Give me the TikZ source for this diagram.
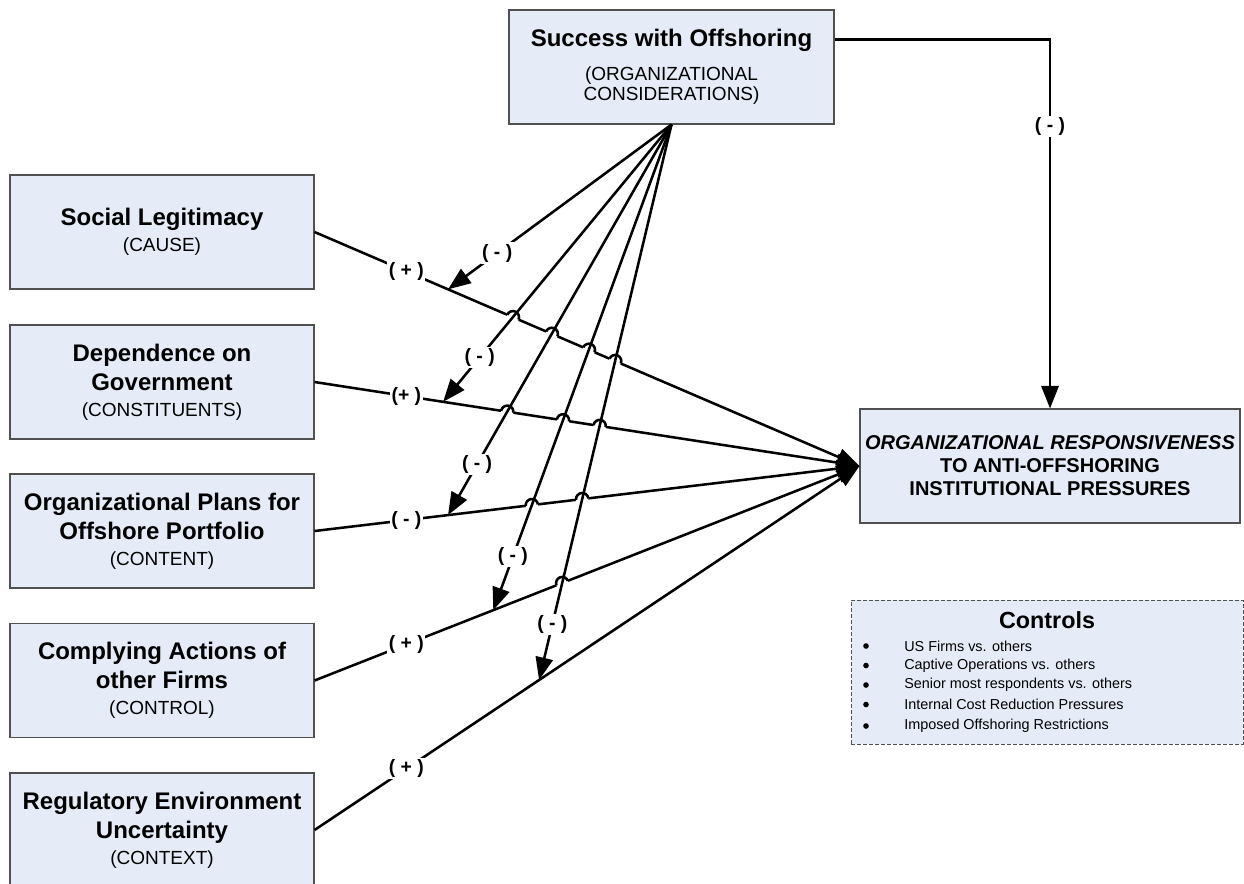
\documentclass[tikz,border=0pt]{standalone}
\usepackage{fontspec}
\setmainfont{Liberation Sans}
\usetikzlibrary{arrows.meta,calc}
\definecolor{boxblue}{HTML}{E5ECF7}
\definecolor{boxedge}{HTML}{505050}
\newcommand\titlef{\fontsize{18}{21.75}\selectfont\bfseries}
\newcommand\subf{\fontsize{14.25}{21.75}\selectfont\mdseries}
\newcommand\respf{\fontsize{15}{17.25}\selectfont\bfseries}
\newcommand\labf{\fontsize{14.5}{16}\selectfont\bfseries}
\newcommand\ctlhead{\fontsize{17.5}{20}\selectfont\bfseries}
\newcommand\ctlitem{\fontsize{10.8}{13}\selectfont}
\newcommand\hopradius{4.6pt}
\newcommand\hopover[4]{%
  \draw[white, line width=3pt] let \p1=(intersection of #1--#2 and #3--#4), \p2=($(#2)-(#1)$),
     \n1={atan2(\y2,\x2)}, \n2={atan2(\y2,\x2)+180} in
     ($(\p1)+(\n2:\hopradius)$) -- ($(\p1)+(\n1:\hopradius)$);
  \draw[conn] let \p1=(intersection of #1--#2 and #3--#4), \p2=($(#2)-(#1)$),
     \n1={atan2(\y2,\x2)}, \n2={atan2(\y2,\x2)+180} in
     ($(\p1)+(\n2:\hopradius)$) arc[start angle=\n2, end angle=\n1, radius=\hopradius];
}
\begin{document}
\begin{tikzpicture}[x=0.75pt,y=-0.75pt,
  box/.style={draw=boxedge, fill=boxblue, line width=0.8pt, inner sep=0pt, align=center, minimum height=85.5pt},
  lbox/.style={box, minimum width=228pt, font=\titlef},
  conn/.style={line width=1.9pt},
  arr/.style={conn, -{Triangle[length=17pt,width=13pt]}},
  lab/.style={fill=white, inner sep=1.2pt, font=\labf},
  bul/.style={circle, fill=black, inner sep=0pt, minimum size=4.2pt},
  itm/.style={font=\ctlitem, anchor=west, inner sep=0pt},
]
\useasboundingbox (0,0) rectangle (1244,883);

% boxes
\node[box, minimum width=243.75pt, font=\titlef] (top) at (671.5,67)
  {Success with Offshoring\\[3.75pt]\subf (ORGANIZATIONAL\\[-6.75pt]\subf CONSIDERATIONS)};
\node[box, minimum width=285pt, font=\respf] (tgt) at (1050,466)
  {\itshape ORGANIZATIONAL RESPONSIVENESS\\TO ANTI-OFFSHORING\\INSTITUTIONAL PRESSURES};
\node[lbox] (sl) at (162,232) {Social Legitimacy\\[-2.25pt]\subf (CAUSE)};
\node[lbox] (dep) at (162,382) {Dependence on\\Government\\[-2.25pt]\subf (CONSTITUENTS)};
\node[lbox] (org) at (162,531) {Organizational Plans for\\Offshore Portfolio\\[-2.25pt]\subf (CONTENT)};
\node[lbox] (comp) at (162,680.5) {Complying Actions of\\other Firms\\[-2.25pt]\subf (CONTROL)};
\node[lbox] (reg) at (162,830) {Regulatory Environment\\Uncertainty\\[-2.25pt]\subf (CONTEXT)};

% controls
\node[draw=boxedge, dash pattern=on 3pt off 1.5pt, fill=boxblue, line width=0.6pt,
      minimum width=294pt, minimum height=108pt, inner sep=0pt] (ctl) at (1047,672) {};
\node[font=\ctlhead] (ctlt) at (1047,620) {Controls};
\node[bul] (b1) at (866,646) {};
\node[bul] (b2) at (866,665.5) {};
\node[bul] (b3) at (866,685) {};
\node[bul] (b4) at (866,704.5) {};
\node[bul] (b5) at (866,726) {};
\node[itm] (i1) at (904,646) {US Firms vs. others};
\node[itm] (i2) at (904,665.5) {Captive Operations vs. others};
\node[itm] (i3) at (904,685) {Senior most respondents vs. others};
\node[itm] (i4) at (904,704.5) {Internal Cost Reduction Pressures};
\node[itm] (i5) at (904,726) {Imposed Offshoring Restrictions};

% anchor coordinates
\coordinate (hub) at (top.south);
\coordinate (T) at (tgt.west);
\coordinate (e1) at (sl.east);
\coordinate (e2) at (dep.east);
\coordinate (e3) at (org.east);
\coordinate (e4) at (comp.east);
\coordinate (e5) at (reg.east);
\coordinate (a1) at ($(e1)!0.245!(T)$);
\coordinate (a2) at ($(e2)!0.236!(T)$);
\coordinate (a3) at ($(e3)!0.245!(T)$);
\coordinate (a4) at ($(e4)!0.328!(T)$);
\coordinate (a5) at ($(e5)!0.412!(T)$);

% main connectors
\draw[arr] (e1) -- node[lab,pos=0.1685]{( + )} (T);
\draw[arr] (e2) -- node[lab,pos=0.1685]{(+ )} (T);
\draw[arr] (e3) -- node[lab,pos=0.1685]{( - )} (T);
\draw[arr] (e4) -- node[lab,pos=0.1685]{( + )} (T);
\draw[arr] (e5) -- node[lab,pos=0.1685]{( + )} (T);

% line jumps
\hopover{e1}{T}{hub}{a2}
\hopover{e1}{T}{hub}{a3}
\hopover{e1}{T}{hub}{a4}
\hopover{e1}{T}{hub}{a5}
\hopover{e2}{T}{hub}{a3}
\hopover{e2}{T}{hub}{a4}
\hopover{e2}{T}{hub}{a5}
\hopover{e3}{T}{hub}{a4}
\hopover{e3}{T}{hub}{a5}
\hopover{e4}{T}{hub}{a5}

% moderating connectors
\draw[arr] (hub) -- node[lab,pos=0.78]{( - )} (a1);
\draw[arr] (hub) -- node[lab,pos=0.84]{( - )} (a2);
\draw[arr] (hub) -- node[lab,pos=0.87]{( - )} (a3);
\draw[arr] (hub) -- node[lab,pos=0.89]{( - )} (a4);
\draw[arr] (hub) -- node[lab,pos=0.90]{( - )} (a5);

% top right connector
\coordinate (c0) at ($(top.north east)!0.263!(top.south east)$);
\draw[arr] (c0) -| node[lab,pos=0.618]{( - )} (tgt.north);
\end{tikzpicture}
\end{document}
